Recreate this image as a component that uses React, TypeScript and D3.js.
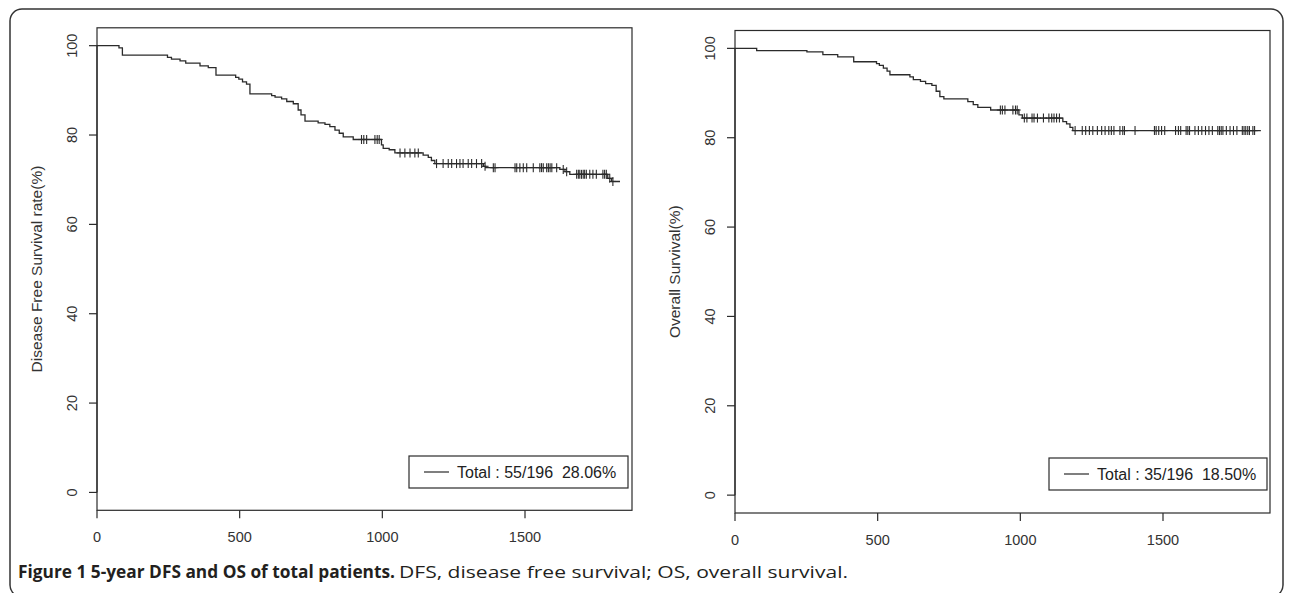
import React from "react";
import * as d3 from "d3";

// ---- Data ----
const xTicks = [0, 500, 1000, 1500];
const yTicks = [0, 20, 40, 60, 80, 100];

// DFS: event times (days) and survival (%) after each step
const dfsTimes = [0, 77, 89, 247, 261, 291, 311, 361, 390, 417, 486, 497, 510, 524, 536, 612, 624, 647, 665, 688, 705, 715, 729, 775, 799, 816, 834, 849, 863, 898, 997, 1003, 1024, 1044, 1143, 1161, 1172, 1184, 1354, 1362, 1622, 1640, 1657, 1790, 1803];
const dfsSurv = [100, 99.5, 97.9, 97.4, 97.0, 96.6, 96.1, 95.5, 95.1, 93.4, 92.9, 92.5, 91.9, 91.4, 89.2, 88.8, 88.5, 88.1, 87.5, 87.0, 85.6, 84.5, 83.1, 82.7, 82.4, 81.9, 81.1, 80.4, 79.6, 79.0, 77.8, 77.0, 76.7, 76.0, 75.5, 75.0, 74.3, 73.6, 73.0, 72.7, 72.3, 71.8, 71.2, 70.3, 69.6];
const dfsEnd = 1833;
const dfsCensor = [927, 935, 945, 974, 982, 989, 1062, 1079, 1097, 1114, 1126, 1190, 1213, 1231, 1243, 1260, 1272, 1283, 1301, 1313, 1330, 1348, 1360, 1389, 1395, 1465, 1471, 1482, 1494, 1506, 1529, 1552, 1558, 1564, 1576, 1582, 1588, 1594, 1611, 1634, 1646, 1681, 1687, 1692, 1698, 1704, 1709, 1715, 1727, 1738, 1750, 1773, 1779, 1785, 1797, 1808];

// OS
const osTimes = [0, 76, 252, 308, 360, 416, 496, 506, 520, 533, 543, 613, 625, 650, 668, 690, 705, 718, 732, 816, 835, 851, 896, 995, 1007, 1149, 1162, 1174, 1184];
const osSurv = [100, 99.5, 99.2, 98.6, 98.1, 97.0, 96.6, 96.2, 95.6, 94.9, 94.1, 93.6, 93.0, 92.6, 92.1, 91.7, 90.4, 89.2, 88.7, 88.1, 87.4, 86.8, 86.2, 85.1, 84.4, 83.6, 83.1, 82.3, 81.6];
const osEnd = 1843;
const osCensor = [930, 937, 946, 974, 983, 989, 1014, 1023, 1041, 1048, 1060, 1081, 1100, 1110, 1118, 1127, 1137, 1192, 1217, 1229, 1242, 1254, 1270, 1285, 1297, 1310, 1319, 1328, 1349, 1359, 1365, 1402, 1470, 1476, 1485, 1495, 1506, 1544, 1554, 1562, 1581, 1587, 1593, 1612, 1624, 1636, 1649, 1661, 1673, 1692, 1698, 1704, 1710, 1722, 1735, 1747, 1759, 1778, 1784, 1790, 1797, 1803, 1815, 1821];

const dfsLegend = "Total : 55/196  28.06%";
const osLegend = "Total : 35/196  18.50%";
const dfsYLabel = "Disease Free Survival rate(%)";
const osYLabel = "Overall Survival(%)";
const captionBold = "Figure 1 5-year DFS and OS of total patients.";
const captionRest = "DFS, disease free survival; OS, overall survival.";

const xDomain = [0, 1875];
const yDomain = [-4, 104];

const INK = "#2b2b2b";
const FONT = "'Liberation Sans', Arial, sans-serif";

type PanelProps = {
  left: number; right: number; top: number; bottom: number;
  times: number[]; surv: number[]; end: number; censor: number[];
  legend: string; yLabel: string;
  legendBox: { x: number; y: number; w: number; h: number };
};

function survAt(times: number[], surv: number[], t: number) {
  let s = surv[0];
  for (let i = 0; i < times.length; i++) if (times[i] <= t) s = surv[i];
  return s;
}

function Panel(p: PanelProps) {
  const x = d3.scaleLinear().domain(xDomain).range([p.left, p.right]);
  const y = d3.scaleLinear().domain(yDomain).range([p.bottom, p.top]);
  const pts: [number, number][] = p.times.map((t, i) => [t, p.surv[i]]);
  pts.push([p.end, p.surv[p.surv.length - 1]]);
  const line = d3.line<[number, number]>().x(d => x(d[0])).y(d => y(d[1])).curve(d3.curveStepAfter);
  const cy = (p.top + p.bottom) / 2;
  const lb = p.legendBox;
  return (
    <g>
      <rect x={p.left} y={p.top} width={p.right - p.left} height={p.bottom - p.top} fill="none" stroke={INK} strokeWidth={1.2} />
      {/* y axis */}
      <line x1={p.left} x2={p.left} y1={y(0)} y2={y(100)} stroke={INK} strokeWidth={1.2} />
      {yTicks.map(v => (
        <g key={"y" + v}>
          <line x1={p.left - 8} x2={p.left} y1={y(v)} y2={y(v)} stroke={INK} strokeWidth={1.2} />
          <text transform={`translate(${p.left - 20},${y(v)}) rotate(-90)`} textAnchor="middle" fontFamily={FONT} fontSize={14.5} fill="#333">{v}</text>
        </g>
      ))}
      {/* x axis */}
      {xTicks.map(v => (
        <g key={"x" + v}>
          <line x1={x(v)} x2={x(v)} y1={p.bottom} y2={p.bottom + 8} stroke={INK} strokeWidth={1.2} />
          <text x={x(v)} y={p.bottom + 32} textAnchor="middle" fontFamily={FONT} fontSize={14.5} fill="#333">{v}</text>
        </g>
      ))}
      <text transform={`translate(${p.left - 55.5},${cy}) rotate(-90)`} textAnchor="middle" fontFamily={FONT} fontSize={15.5} fill="#333">{p.yLabel}</text>
      {/* curve */}
      <path d={line(pts) || ""} fill="none" stroke={INK} strokeWidth={1.3} />
      {p.censor.map((t, i) => {
        const px = x(t), py = y(survAt(p.times, p.surv, t));
        return (
          <g key={"c" + i} stroke={INK} strokeWidth={1.1}>
            <line x1={px} x2={px} y1={py - 4.5} y2={py + 4.5} />
            <line x1={px - 3.5} x2={px + 3.5} y1={py} y2={py} />
          </g>
        );
      })}
      {/* legend */}
      <rect x={lb.x} y={lb.y} width={lb.w} height={lb.h} fill="white" stroke={INK} strokeWidth={1.2} />
      <line x1={lb.x + 15} x2={lb.x + 40} y1={lb.y + lb.h / 2} y2={lb.y + lb.h / 2} stroke={INK} strokeWidth={1.2} />
      <text x={lb.x + 48} y={lb.y + lb.h / 2 + 5.5} fontFamily={FONT} fontSize={16} fill="#222" style={{ whiteSpace: "pre" }}>{p.legend}</text>
    </g>
  );
}

export default function App() {
  return (
    <svg width={1292} height={593} style={{ position: "absolute", left: 0, top: 0, background: "white" }}>
      <rect x={10} y={9} width={1273} height={588} rx={12} ry={12} fill="white" stroke="#333" strokeWidth={1.5} />
      <Panel left={97} right={632} top={27.8} bottom={510.3}
        times={dfsTimes} surv={dfsSurv} end={dfsEnd} censor={dfsCensor}
        legend={dfsLegend} yLabel={dfsYLabel}
        legendBox={{ x: 409, y: 456, w: 219, h: 32 }} />
      <Panel left={735} right={1270} top={30.5} bottom={513}
        times={osTimes} surv={osSurv} end={osEnd} censor={osCensor}
        legend={osLegend} yLabel={osYLabel}
        legendBox={{ x: 1049, y: 458, w: 218, h: 32 }} />
      <text x={18} y={578} fontFamily="'Open Sans', sans-serif" fontSize={17} fontWeight="bold" fill="#231f20"
        textLength={377} lengthAdjust="spacingAndGlyphs">{captionBold}</text>
      <text x={399} y={578} fontFamily="'Open Sans', sans-serif" fontSize={17} fill="#231f20"
        textLength={449} lengthAdjust="spacingAndGlyphs">{captionRest}</text>
    </svg>
  );
}
